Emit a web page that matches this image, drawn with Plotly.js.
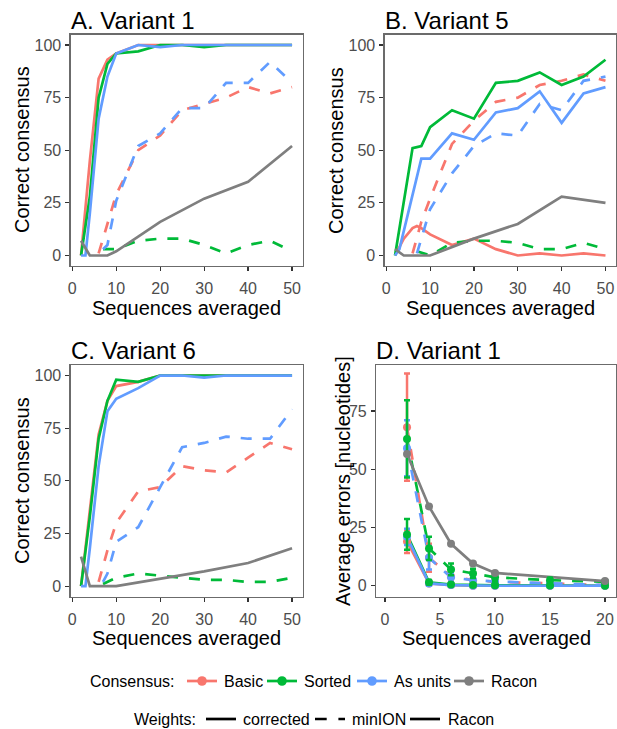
<!DOCTYPE html>
<html>
<head>
<meta charset="utf-8">
<script src="https://cdn.plot.ly/plotly-3.0.1.min.js"></script>
<style>html,body{margin:0;padding:0;background:#fff;}#chart{width:617px;height:729px;}</style>
</head>
<body>
<div id="chart"></div>
<script>
// ---------------- DATA ----------------
// Sequences averaged (panels A-C)
const XS = [2, 3, 4, 6, 7, 8, 10, 15, 20, 25, 30, 35, 40, 45, 50];

// Panel A: Variant 1 — correct consensus
const aBasicCorr  = [0, null, 45, 84, null, 93, 96, 100, 100, 100, 100, 100, 100, 100, 100];
const aSortedCorr = [0, null, 28, 75, null, 91, 96, 97, 100, 100, 99, 100, 100, 100, 100];
const aUnitsCorr  = [0, 0, 20, 65, null, 85, 96, 100, 99, 100, 100, 100, 100, 100, 100];
const aBasicMin   = [null, null, null, 1, null, 15, 29, 50, 57, 69, 72, 75, 80, 77, 80];
const aSortedMin  = [null, null, null, null, 3, 3, 3, 7, 8, 8, 5, 1, 5, 7, 2];
const aUnitsMin   = [null, null, null, null, 3, 5, 26, 52, 58, 70, 70, 82, 82, 92, 82];
const aRacon      = [7, null, 0, 0, null, 0, 2, null, 16, null, 27, null, 35, null, 52];

// Panel B: Variant 5
const bBasicCorr  = [0, null, 8, 13, 14, 13, 10, 5, 8, 3, 0, 1, 0, 1, 0];
const bSortedCorr = [0, null, null, 51, null, 52, 61, 69, 65, 82, 83, 87, 81, 85, 93];
const bUnitsCorr  = [0, 3, null, null, null, 46, 46, 58, 55, 68, 70, 78, 63, 77, 80];
const bBasicMin   = [null, null, null, 1, null, 16, 27, 53, 64, 73, 75, 81, 83, 86, 83];
const bSortedMin  = [null, null, null, null, 2, null, 0, 6, 7, 7, 6, 3, 3, 6, 3];
const bUnitsMin   = [null, null, null, null, 1, 8, 22, 39, 52, 58, 57, 72, 69, 83, 85];
const bRacon      = [3, null, 0, null, null, null, 0, null, 8, null, 15, null, 28, null, 25];

// Panel C: Variant 6
const cBasicCorr  = [0, null, 36, 72, null, 88, 95, 97, 100, 100, 100, 100, 100, 100, 100];
const cSortedCorr = [0, null, 33, 70, null, 88, 98, 97, 100, 100, 100, 100, 100, 100, 100];
const cUnitsCorr  = [0, 0, 18, 57, null, 83, 89, 94, 100, 100, 99, 100, 100, 100, 100];
const cBasicMin   = [null, null, null, 2, null, 17, 30, 45, 47, 57, 55, 54, 61, 68, 65];
const cSortedMin  = [null, null, null, null, 1, null, 4, 6, 5, 4, 3, 3, 2, 2, 4];
const cUnitsMin   = [null, null, null, null, 2, 6, 21, 28, 47, 66, 68, 71, 70, 70, 84];
const cRacon      = [14, null, 0, null, null, null, 0, null, 3.5, null, 7, null, 11, null, 18];

// Panel D: Variant 1 — average errors [nucleotides]
const DX = [2, 4, 6, 8, 10, 15, 20];
const dBasicCorr     = [19, 1, 0.3, 0, 0, 0, 0];
const dBasicCorrErr  = [5, 1, 0.3, 0, 0, 0, 0];
const dSortedCorr    = [22, 1.5, 0.5, 0.3, 0.2, 0.1, 0];
const dSortedCorrErr = [6.6, 1, 0.5, 0.3, 0.2, 0.1, 0];
const dUnitsCorr     = [21, 1, 0.3, 0, 0, 0, 0];
const dUnitsCorrErr  = [3.5, 1, 0.3, 0, 0, 0, 0];
const dBasicMin      = [68, 12, 4, 2.4, 1.7, 1, 0.3];
const dBasicMinErr   = [23, 6, 2, 1.5, 1, 0.5, 0.3];
const dSortedMin     = [63, 16, 7, 5.3, 3.6, 2.4, 1.7];
const dSortedMinErr  = [16.6, 5, 2.5, 2, 1.5, 1, 0.8];
const dUnitsMin      = [59, 12, 3.6, 2.4, 1.8, 1, 0.3];
const dUnitsMinErr   = [12, 5, 2, 1.5, 1, 0.5, 0.3];
const dRacon         = [56.5, 34, 18, 9.5, 5.5, null, 2];

// Labels
const panelTitles = ['A. Variant 1', 'B. Variant 5', 'C. Variant 6', 'D. Variant 1'];
const consensusNames = ['Basic', 'Sorted', 'As units', 'Racon'];
const weightNames = ['corrected', 'minION', 'Racon'];
const ticksAC = [0, 10, 20, 30, 40, 50];
const ticksAC_y = [0, 25, 50, 75, 100];
const ticksD_x = [0, 5, 10, 15, 20];
const ticksD_y = [0, 25, 50, 75];

// ---------------- STYLE ----------------
const COL = {basic: '#F8766D', sorted: '#00BA38', units: '#619CFF', racon: '#7F7F7F'};
const LW = 2.7;
const DASH = '11px,11px';
const FONT = 'Liberation Sans, Arial, Helvetica, sans-serif';
const W = 617, H = 729;
const px = v => v / W;
const py = v => 1 - v / H;

function ln(x, y, color, dashed, xa, ya) {
  return {type: 'scatter', mode: 'lines', x: x, y: y, xaxis: xa, yaxis: ya,
    connectgaps: true, hoverinfo: 'skip', showlegend: false,
    line: {color: color, width: LW, dash: dashed ? DASH : 'solid'}};
}
function pts(x, y, err, color, xa, ya) {
  const t = {type: 'scatter', mode: 'markers', x: x, y: y, xaxis: xa, yaxis: ya,
    hoverinfo: 'skip', showlegend: false, marker: {color: color, size: 8}};
  if (err) t.error_y = {type: 'data', array: err, visible: true, color: color, thickness: 2.5, width: 3};
  return t;
}

const traces = [];
function panelLines(set, xa, ya) {
  traces.push(ln(XS, set[0], COL.basic, false, xa, ya));
  traces.push(ln(XS, set[3], COL.basic, true, xa, ya));
  traces.push(ln(XS, set[1], COL.sorted, false, xa, ya));
  traces.push(ln(XS, set[4], COL.sorted, true, xa, ya));
  traces.push(ln(XS, set[2], COL.units, false, xa, ya));
  traces.push(ln(XS, set[5], COL.units, true, xa, ya));
  traces.push(ln(XS, set[6], COL.racon, false, xa, ya));
}
panelLines([aBasicCorr, aSortedCorr, aUnitsCorr, aBasicMin, aSortedMin, aUnitsMin, aRacon], 'x', 'y');
panelLines([bBasicCorr, bSortedCorr, bUnitsCorr, bBasicMin, bSortedMin, bUnitsMin, bRacon], 'x2', 'y2');
panelLines([cBasicCorr, cSortedCorr, cUnitsCorr, cBasicMin, cSortedMin, cUnitsMin, cRacon], 'x3', 'y3');

// Panel D: lines layer first, then error bars + points layer
traces.push(ln(DX, dBasicCorr, COL.basic, false, 'x4', 'y4'));
traces.push(ln(DX, dBasicMin, COL.basic, true, 'x4', 'y4'));
traces.push(ln(DX, dSortedCorr, COL.sorted, false, 'x4', 'y4'));
traces.push(ln(DX, dSortedMin, COL.sorted, true, 'x4', 'y4'));
traces.push(ln(DX, dUnitsCorr, COL.units, false, 'x4', 'y4'));
traces.push(ln(DX, dUnitsMin, COL.units, true, 'x4', 'y4'));
traces.push(ln(DX, dRacon, COL.racon, false, 'x4', 'y4'));
traces.push(pts(DX, dBasicCorr, dBasicCorrErr, COL.basic, 'x4', 'y4'));
traces.push(pts(DX, dBasicMin, dBasicMinErr, COL.basic, 'x4', 'y4'));
traces.push(pts(DX, dUnitsCorr, dUnitsCorrErr, COL.units, 'x4', 'y4'));
traces.push(pts(DX, dUnitsMin, dUnitsMinErr, COL.units, 'x4', 'y4'));
traces.push(pts(DX, dSortedCorr, dSortedCorrErr, COL.sorted, 'x4', 'y4'));
traces.push(pts(DX, dSortedMin, dSortedMinErr, COL.sorted, 'x4', 'y4'));
traces.push(pts(DX, dRacon, null, COL.racon, 'x4', 'y4'));

function axis(domainPx, range, tickvals, anchor, isY) {
  return {
    domain: isY ? [py(domainPx[1]), py(domainPx[0])] : [px(domainPx[0]), px(domainPx[1])],
    range: range, tickmode: 'array', tickvals: tickvals, ticktext: tickvals.map(String),
    anchor: anchor, showline: true, mirror: true, linecolor: '#6b6b6b', linewidth: 1.1,
    ticks: 'outside', ticklen: 4, tickwidth: 1.2, tickcolor: '#333333',
    ticklabelstandoff: isY ? 1 : 4,
    showgrid: false, zeroline: false, fixedrange: true,
    tickfont: {family: FONT, size: 16, color: '#4D4D4D'}
  };
}
const xAC = [-0.4, 52.4], yAC = [-5, 105];

const annotations = [];
function txt(text, x, y, size, opts) {
  annotations.push(Object.assign({text: text, x: px(x), y: py(y), xref: 'paper', yref: 'paper',
    showarrow: false, xanchor: 'center', yanchor: 'middle',
    font: {family: FONT, size: size, color: '#000'}}, opts || {}));
}
// Panel titles
txt(panelTitles[0], 69, 20, 24, {xanchor: 'left'});
txt(panelTitles[1], 383, 20, 24, {xanchor: 'left'});
txt(panelTitles[2], 69, 350, 24, {xanchor: 'left'});
txt(panelTitles[3], 374, 350, 24, {xanchor: 'left'});
// Axis titles
txt('Sequences averaged', 186.5, 308, 20);
txt('Sequences averaged', 500, 308, 20);
txt('Sequences averaged', 186.5, 638, 20);
txt('Sequences averaged', 496, 638, 20);
txt('Correct consensus', 22, 150, 20, {textangle: -90});
txt('Correct consensus', 336, 150, 20, {textangle: -90});
txt('Correct consensus', 22, 481, 20, {textangle: -90});
txt('Average errors [nucleotides]', 343, 481, 20, {textangle: -90});

// Legend
const shapes = [];
function keyLine(x0, x1, y, color, dash) {
  shapes.push({type: 'line', xref: 'paper', yref: 'paper', x0: px(x0), x1: px(x1), y0: py(y), y1: py(y),
    line: {color: color, width: LW, dash: dash || 'solid'}});
}
function keyDot(cx, cy, color) {
  const r = 4.8;
  shapes.push({type: 'circle', xref: 'paper', yref: 'paper', x0: px(cx - r), x1: px(cx + r), y0: py(cy + r), y1: py(cy - r),
    fillcolor: color, line: {color: color, width: 0}});
}
const r1 = 681, r2 = 719;
txt('Consensus:', 177, r1, 16, {xanchor: 'right'});
const cCols = [COL.basic, COL.sorted, COL.units, COL.racon];
const cKeyX = [187, 267, 357, 454];
const cTxtX = [221.5, 301.5, 391.5, 489];
for (let i = 0; i < 4; i++) {
  keyLine(cKeyX[i], cKeyX[i] + 30, r1, cCols[i]);
  keyDot(cKeyX[i] + 15, r1, cCols[i]);
  txt(consensusNames[i], cTxtX[i], r1, 16, {xanchor: 'left'});
}
txt('Weights:', 197.5, r2, 16, {xanchor: 'right'});
const wKeyX = [206, 315, 410];
const wTxtX = [241, 350, 445.5];
const wDash = ['solid', '11.7px,11.7px', 'solid'];
for (let i = 0; i < 3; i++) {
  keyLine(wKeyX[i], wKeyX[i] + 30, r2, '#000', wDash[i]);
  txt(weightNames[i], wTxtX[i], r2, 16, {xanchor: 'left'});
}

const layout = {
  width: W, height: H, margin: {l: 0, r: 0, t: 0, b: 0},
  paper_bgcolor: '#fff', plot_bgcolor: '#fff', showlegend: false,
  font: {family: FONT},
  xaxis: axis([70.5, 302.6], xAC, ticksAC, 'y', false),
  yaxis: axis([34.5, 266], yAC, ticksAC_y, 'x', true),
  xaxis2: axis([384.5, 616], xAC, ticksAC, 'y2', false),
  yaxis2: axis([34.5, 266], yAC, ticksAC_y, 'x2', true),
  xaxis3: axis([70.5, 302.6], xAC, ticksAC, 'y3', false),
  yaxis3: axis([365, 596.7], yAC, ticksAC_y, 'x3', true),
  xaxis4: axis([376, 616], [-0.82, 21], ticksD_x, 'y4', false),
  yaxis4: axis([365, 596.7], [-4.7, 94.7], ticksD_y, 'x4', true),
  annotations: annotations,
  shapes: shapes
};

Plotly.newPlot('chart', traces, layout, {staticPlot: true, displayModeBar: false});
</script>
</body>
</html>
